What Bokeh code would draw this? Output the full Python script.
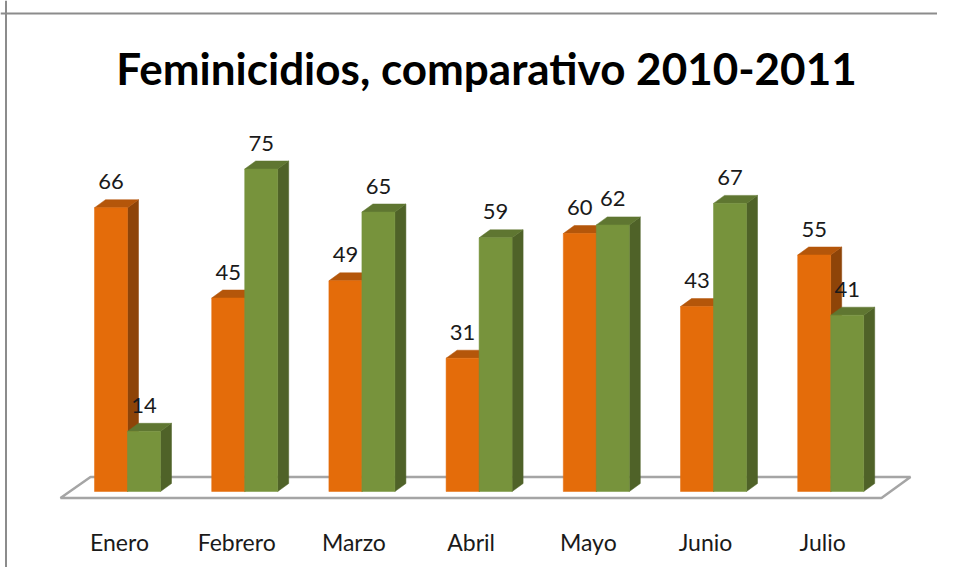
from bokeh.plotting import figure
from bokeh.models import Range1d, Span, Label, ColumnDataSource
from bokeh.core.properties import value
from bokeh.embed import file_html
from bokeh.resources import INLINE

# ---- data ----
months = ["Enero", "Febrero", "Marzo", "Abril", "Mayo", "Junio", "Julio"]
v2010 = [66, 45, 49, 31, 60, 43, 55]
v2011 = [14, 75, 65, 59, 62, 67, 41]
title_text = "Feminicidios, comparativo 2010-2011"

# ---- layout constants (pixels) ----
W, H = 937, 567
X0_PX, STEP_PX = 127.0, 117.2      # canvas x of first category junction, spacing
BASE_PX, PPU = 491.0, 4.3          # canvas y of value 0, px per unit
BAR_PX = 33.0
DX_PX, DY_PX = 11.0, 8.0
FONT = "Lato"

xmin = -X0_PX / STEP_PX
xmax = (W - X0_PX) / STEP_PX
ymax = BASE_PX / PPU
ymin = (BASE_PX - H) / PPU

def dxu(px):
    return px / STEP_PX

def dyu(px):
    return px / PPU

def cx(px):  # canvas px -> data x
    return (px - X0_PX) / STEP_PX

def cy(px):  # canvas px -> data y
    return (BASE_PX - px) / PPU

p = figure(width=W, height=H, output_backend="svg", toolbar_location=None,
           x_range=Range1d(xmin, xmax), y_range=Range1d(ymin, ymax),
           min_border=0, x_axis_location=None, y_axis_location=None)
p.grid.visible = False
p.outline_line_color = None
p.background_fill_color = "white"
p.border_fill_color = "white"

# chart border (top and left)
p.add_layout(Span(location=cy(13), dimension="width", line_color="#8c8c8c", line_width=2))
p.add_layout(Span(location=cx(5.5), dimension="height", line_color="#8c8c8c", line_width=2))

# floor
fx = [cx(60), cx(881), cx(910), cx(90)]
fy = [cy(497.5), cy(497.5), cy(476.5), cy(476.5)]
p.patch(fx, fy, fill_color="white", line_color="#a5a5a5", line_width=2.5)

w = dxu(BAR_PX)
ddx = dxu(DX_PX)
ddy = dyu(DY_PX)

def draw_series(vals, offset, front, top, side):
    sides_x, sides_y, tops_x, tops_y = [], [], [], []
    lefts = []
    for i, v in enumerate(vals):
        x0 = i + offset
        x1 = x0 + w
        lefts.append(x0)
        sides_x.append([x1, x1 + ddx, x1 + ddx, x1])
        sides_y.append([0, ddy, v + ddy, v])
        tops_x.append([x0, x1, x1 + ddx, x0 + ddx])
        tops_y.append([v, v, v + ddy, v + ddy])
    p.patches(sides_x, sides_y, fill_color=side, line_color=side, line_width=0.5)
    p.patches(tops_x, tops_y, fill_color=top, line_color=top, line_width=0.5)
    src = ColumnDataSource(dict(x=[l + w / 2 for l in lefts], top=vals))
    p.vbar(x="x", top="top", bottom=0, width=w, source=src,
           fill_color=front, line_color=front, line_width=0.5)
    lab = ColumnDataSource(dict(x=[l + w / 2 for l in lefts],
                                y=[v + dyu(26) for v in vals],
                                t=[str(v) for v in vals]))
    p.text(x="x", y="y", text="t", source=lab, text_font=value(FONT),
           text_font_size="22px", text_color="#1a1a1a",
           text_align="center", text_baseline="middle")

draw_series(v2010, -w, "#E46C0A", "#B4560A", "#8E4408")
draw_series(v2011, 0.0, "#77933C", "#5F7631", "#4F6228")

# category labels
cat_src = ColumnDataSource(dict(x=[i - dxu(8) for i in range(len(months))],
                                y=[cy(541)] * len(months), t=months))
p.text(x="x", y="y", text="t", source=cat_src, text_font=value(FONT),
       text_font_size="23px", text_color="#1a1a1a",
       text_align="center", text_baseline="middle")

# title
p.add_layout(Label(x=486, y=H - 67, x_units="screen", y_units="screen",
                   text=title_text, text_font=FONT, text_font_size="44px",
                   text_font_style="bold", text_color="black",
                   text_align="center", text_baseline="alphabetic"))

open("out.html", "w").write(file_html(p, INLINE))
